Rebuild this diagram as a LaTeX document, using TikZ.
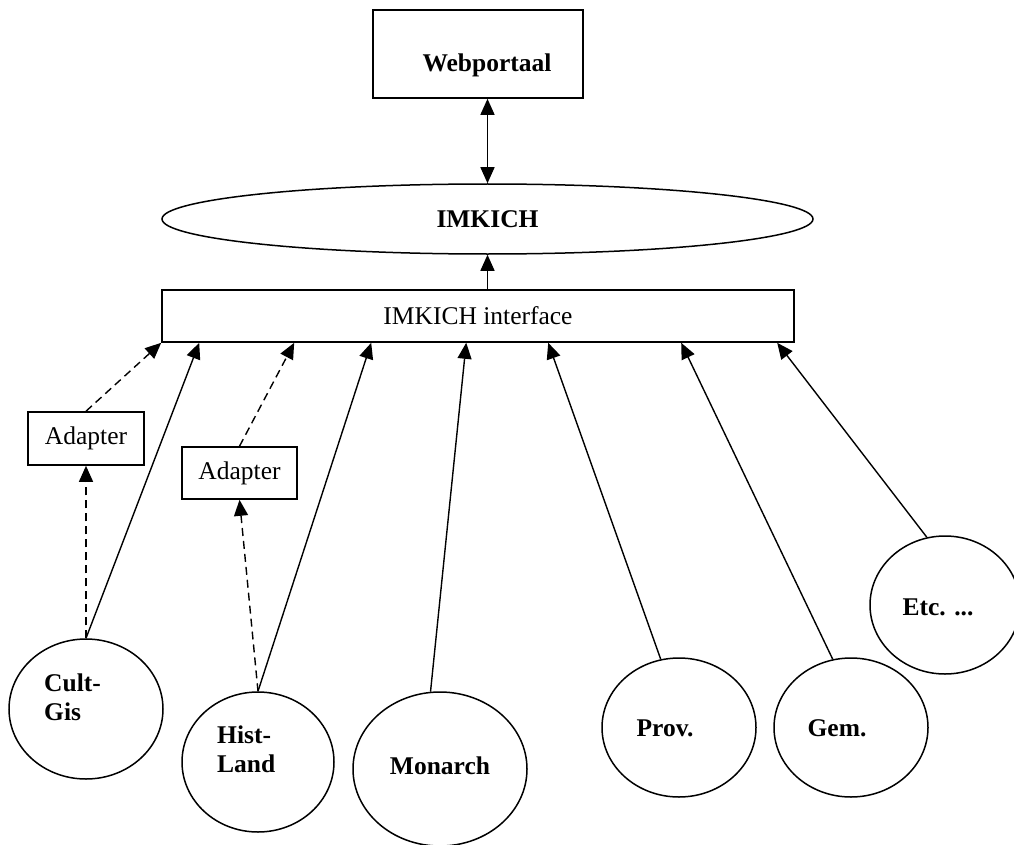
\documentclass[tikz,border=0pt]{standalone}
\usepackage{fontspec}
\setmainfont{Liberation Serif}
\usetikzlibrary{shapes.geometric,arrows.meta,calc}
\begin{document}
\begin{tikzpicture}[x=1pt,y=-1pt,
  font=\fontsize{25.5}{29}\selectfont,
  box/.style={draw, line width=1.6pt, inner sep=0pt},
  src/.style={draw, ellipse, line width=1.5pt, inner sep=0pt},
  lbl/.style={inner sep=0pt, font=\fontsize{25.5}{29}\selectfont\bfseries, align=left},
  arr/.style={line width=1.4pt, -{Triangle[length=16pt,width=14pt]}},
  dbl/.style={line width=1.4pt, {Triangle[length=16pt,width=14pt]}-{Triangle[length=16pt,width=14pt]}},
  darr/.style={arr, dash pattern=on 8pt off 5pt}]
\useasboundingbox (0,0) rectangle (1014,845);

% top part
\node[box, minimum width=210, minimum height=88] (web) at (478,54) {};
\node[lbl] (webT) at (487,65) {Webportaal};
\node[src, minimum width=651, minimum height=70, font=\fontsize{25.5}{29}\selectfont\bfseries] (imk) at (487.5,219) {IMKICH};
\node[box, minimum width=632, minimum height=52] (iface) at (478,316) {IMKICH interface};

% adapters
\node[box, minimum width=116, minimum height=53] (ad1) at (86,438.5) {Adapter};
\node[box, minimum width=115, minimum height=52] (ad2) at (239.5,473) {Adapter};

% sources
\node[src, minimum width=154, minimum height=140] (cult) at (86,709) {};
\node[src, minimum width=152, minimum height=140] (hist) at (258,762) {};
\node[src, minimum width=174, minimum height=154] (mon) at (440,769) {};
\node[src, minimum width=154, minimum height=139] (prov) at (679,727.5) {};
\node[src, minimum width=154, minimum height=139] (gem) at (851,727.5) {};
\node[src, minimum width=150, minimum height=138] (etc) at (945,605) {};

\node[lbl, anchor=west] (cultT) at (44,697) {Cult-\\Gis};
\node[lbl, anchor=west] (histT) at (217,749) {Hist-\\Land};
\node[lbl] (monT) at (440,766) {Monarch};
\node[lbl] (provT) at (665,728) {Prov.};
\node[lbl] (gemT) at (837,728) {Gem.};
\node[lbl] (etcT) at (938,607) {Etc. ...};

% connectors
\draw[dbl] (imk.north |- web.south) -- (imk.north);
\draw[arr] (imk.south |- iface.north) -- (imk.south);

\draw[darr] (cult.north) -- (ad1.south);
\draw[darr] (ad1.north) -- (iface.south west);
\draw[arr] (cult.north) -- ($(iface.south west)+(38,0)$);

\draw[darr] (hist.north) -- (ad2.south);
\draw[darr] (ad2.north) -- ($(iface.south west)+(133,0)$);
\draw[arr] (hist.north) -- ($(iface.south west)+(210,0)$);

\draw[arr] (mon.97) -- ($(iface.south west)+(305,0)$);
\draw[arr] (prov.105) -- ($(iface.south west)+(387,0)$);
\draw[arr] (gem.105) -- ($(iface.south west)+(520,0)$);
\draw[arr] (etc.105) -- ($(iface.south west)+(616,0)$);
\end{tikzpicture}
\end{document}
